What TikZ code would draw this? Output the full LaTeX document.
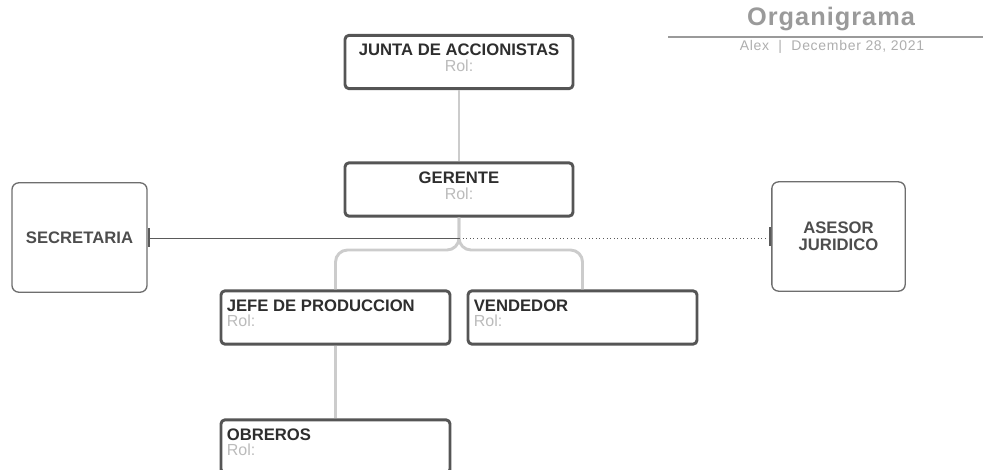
\documentclass[tikz,border=0pt]{standalone}
\usepackage{fontspec}
\setmainfont{Liberation Sans}
\usetikzlibrary{positioning}
\definecolor{bordeosc}{HTML}{555555}
\definecolor{bordeclaro}{HTML}{6E6E6E}
\definecolor{enlacegris}{HTML}{CCCCCC}
\definecolor{textoosc}{HTML}{2E2E2E}
\definecolor{rolgris}{HTML}{BBBBBB}
\definecolor{titgris}{HTML}{9A9A9A}
\definecolor{lineagris}{HTML}{5A5A5A}
\tikzset{
  cargo/.style={draw=bordeosc, line width=2.2pt, rounded corners=3pt, fill=white, minimum width=171pt, minimum height=40pt, inner sep=0pt},
  apoyo/.style={draw=bordeclaro, line width=1pt, rounded corners=5pt, fill=white, minimum width=100pt, minimum height=82pt, inner sep=0pt, align=center, font=\bfseries\fontsize{12.5}{13}\selectfont, text=textoosc!85},
  nombre/.style={inner sep=0pt, font=\bfseries\fontsize{12.5}{14}\selectfont, text=textoosc},
  rol/.style={inner sep=0pt, font=\fontsize{12}{14}\selectfont, text=rolgris},
  enlace/.style={draw=enlacegris, line width=2.2pt},
  tope/.style={draw=lineagris, line width=1.6pt}
}
\begin{document}
\begin{tikzpicture}[x=0.75pt, y=-0.75pt, line join=round]
\useasboundingbox (0,0) rectangle (987,470);
% encabezado
\node[inner sep=0pt, text=titgris, font=\bfseries\fontsize{19}{22}\selectfont\addfontfeature{LetterSpace=4}] (titulo) at (831,19) {Organigrama};
\draw[titgris, line width=0.8pt] (668,37) -- (983,37);
\node[inner sep=0pt, text=titgris!80, font=\fontsize{10.5}{12}\selectfont\addfontfeature{LetterSpace=5}] (autor) at (832,47) {Alex\hspace{7pt}|\hspace{7pt}December 28, 2021};

% cajas
\node[cargo] (junta) at (459,62) {};
\node[cargo] (gerente) at (459,189.5) {};
\node[cargo, minimum width=171.75pt] (jefe) at (335.5,317.5) {};
\node[cargo, minimum width=171.75pt] (vendedor) at (582.5,317.5) {};
\node[cargo, minimum width=171.75pt] (obreros) at (335.5,446.5) {};
\node[apoyo, minimum width=101.25pt] (secretaria) at (79.5,237.5) {SECRETARIA};
\node[apoyo] (asesor) at (838.5,236.5) {ASESOR\\JURIDICO};

% textos
\node[nombre] (juntaN) at ([shift={(0,16)}]junta.north) {JUNTA DE ACCIONISTAS};
\node[rol] (juntaR) at ([shift={(0,32)}]junta.north) {Rol:};
\node[nombre] (gerenteN) at ([shift={(0,16)}]gerente.north) {GERENTE};
\node[rol] (gerenteR) at ([shift={(0,32)}]gerente.north) {Rol:};
\node[nombre, anchor=west] (jefeN) at ([shift={(7,16)}]jefe.north west) {JEFE DE PRODUCCION};
\node[rol, anchor=west] (jefeR) at ([shift={(7,31)}]jefe.north west) {Rol:};
\node[nombre, anchor=west] (vendedorN) at ([shift={(7,16)}]vendedor.north west) {VENDEDOR};
\node[rol, anchor=west] (vendedorR) at ([shift={(7,31)}]vendedor.north west) {Rol:};
\node[nombre, anchor=west] (obrerosN) at ([shift={(7,16)}]obreros.north west) {OBREROS};
\node[rol, anchor=west] (obrerosR) at ([shift={(7,31)}]obreros.north west) {Rol:};

% conexiones
\coordinate (rama) at (459,250);
\coordinate (cruce) at (459,238);
\draw[enlace] (junta.south) -- (gerente.north);
\draw[enlace, rounded corners=9pt] (gerente.south) -- (rama) -| (jefe.north);
\draw[enlace, rounded corners=9pt] (gerente.south) -- (rama) -| (vendedor.north);
\draw[enlace] (jefe.south) -- (obreros.north);
\draw[lineagris, line width=0.7pt] (secretaria.east |- cruce) -- (cruce);
\draw[lineagris, line width=0.7pt, dotted] (cruce) -- (asesor.west |- cruce);
\draw[tope] ([shift={(1,-10)}]secretaria.east |- cruce) -- ([shift={(1,9)}]secretaria.east |- cruce);
\draw[tope] ([shift={(-1,-11)}]asesor.west |- cruce) -- ([shift={(-1,8)}]asesor.west |- cruce);
\end{tikzpicture}
\end{document}
